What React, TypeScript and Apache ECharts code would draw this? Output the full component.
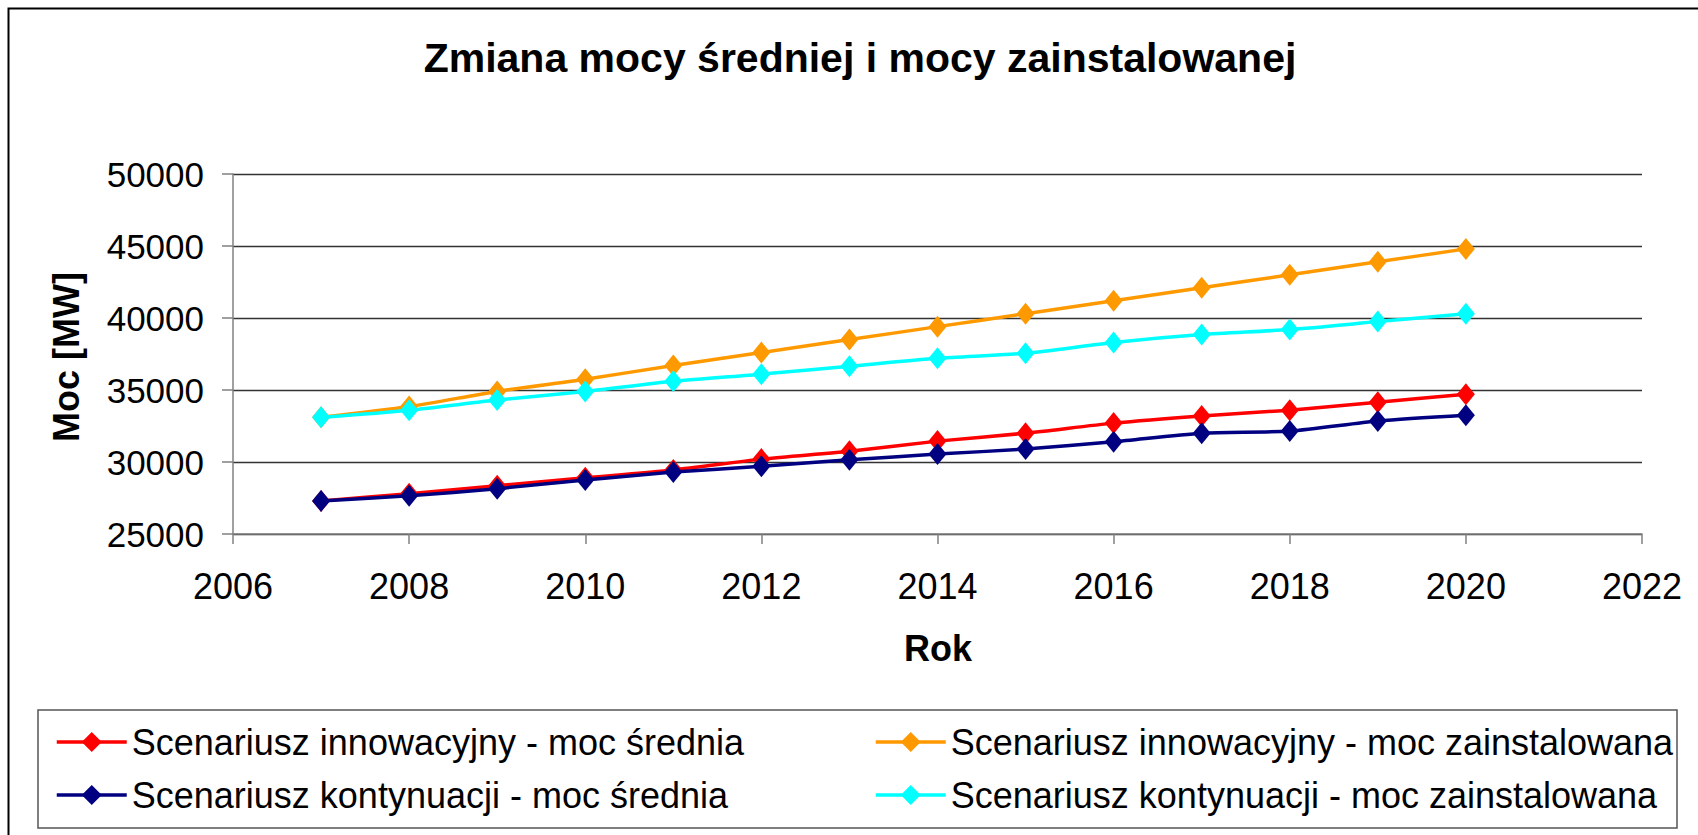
import React, { useEffect, useRef } from "react";
import * as echarts from "echarts";

const years = [2007, 2008, 2009, 2010, 2011, 2012, 2013, 2014, 2015, 2016, 2017, 2018, 2019, 2020];
const innowAvg = [27300, 27800, 28350, 28900, 29450, 30200, 30750, 31450, 32000, 32700, 33200, 33600, 34150, 34700];
const innowInst = [33100, 33850, 34900, 35750, 36700, 37600, 38500, 39400, 40300, 41200, 42100, 43000, 43900, 44800];
const kontAvg = [27300, 27650, 28150, 28750, 29300, 29700, 30150, 30550, 30900, 31400, 32000, 32150, 32850, 33250];
const kontInst = [33100, 33600, 34300, 34900, 35600, 36100, 36650, 37200, 37550, 38300, 38850, 39200, 39750, 40300];

const seriesNames = [
  "Scenariusz innowacyjny - moc średnia",
  "Scenariusz innowacyjny - moc zainstalowana",
  "Scenariusz kontynuacji - moc średnia",
  "Scenariusz kontynuacji - moc zainstalowana",
];
const seriesColors = ["#FF0000", "#FF9900", "#000080", "#00FFFF"];
const seriesValues = [innowAvg, innowInst, kontAvg, kontInst];

const titleText = "Zmiana mocy średniej i mocy zainstalowanej";
const xName = "Rok";
const yName = "Moc [MW]";

const FONT = '"Liberation Sans", Arial, sans-serif';

export default function App() {
  const ref = useRef<HTMLDivElement>(null);
  useEffect(() => {
    if (!ref.current) return;
    const chart = echarts.init(ref.current, null, { renderer: "svg" });
    const series = seriesValues.map((vals, i) => ({
      name: seriesNames[i],
      type: "line",
      data: years.map((y, j) => [y, vals[j]]),
      symbol: "diamond",
      symbolSize: [18, 22],
      smooth: 0.25,
      lineStyle: { color: seriesColors[i], width: 3.5 },
      itemStyle: { color: seriesColors[i] },
      emphasis: { disabled: true },
      z: 2 + i,
    }));
    const legendCommon = {
      orient: "vertical",
      top: 719,
      itemWidth: 70,
      itemHeight: 25,
      itemGap: 17,
      selectedMode: false,
      lineStyle: { width: 3.5 },
      textStyle: {
        fontSize: 36,
        lineHeight: 36,
        fontFamily: FONT,
        color: "#000",
      },
    };
    chart.setOption({
      animation: false,
      backgroundColor: "#fff",
      textStyle: { fontFamily: FONT },
      grid: { left: 233, right: 56, top: 174, bottom: 301, containLabel: false },
      legend: [
        { ...legendCommon, left: 50, data: [seriesNames[0], seriesNames[2]] },
        { ...legendCommon, left: 869, data: [seriesNames[1], seriesNames[3]] },
      ],
      xAxis: {
        type: "value",
        min: 2006,
        max: 2022,
        interval: 2,
        showMinLabel: true,
        showMaxLabel: true,
        axisLine: { show: true, onZero: false, lineStyle: { color: "#808080", width: 1.5 } },
        axisTick: { show: true, length: 10, lineStyle: { color: "#808080", width: 1.5 } },
        splitLine: { show: false },
        axisLabel: {
          fontSize: 36,
          lineHeight: 36,
          color: "#000",
          margin: 34,
          fontFamily: FONT,
          formatter: (v: number) => String(v),
        },
      },
      yAxis: {
        type: "value",
        min: 25000,
        max: 50000,
        interval: 5000,
        axisLine: { show: true, lineStyle: { color: "#808080", width: 1.5 } },
        axisTick: { show: true, length: 11, lineStyle: { color: "#808080", width: 1.5 } },
        splitLine: { show: true, lineStyle: { color: "#333", width: 1.3 } },
        axisLabel: {
          fontSize: 35,
          color: "#000",
          margin: 29,
          fontFamily: FONT,
          formatter: (v: number) => String(v),
        },
      },
      graphic: [
        {
          type: "rect",
          silent: true,
          shape: { x: 8.5, y: 8.5, width: 2000, height: 2000 },
          style: { fill: "none", stroke: "#000", lineWidth: 2 },
          z: -1,
        },
        {
          type: "rect",
          silent: true,
          shape: { x: 38, y: 710, width: 1639, height: 118 },
          style: { fill: "none", stroke: "#555", lineWidth: 1.5 },
        },
        {
          type: "text",
          x: 860,
          y: 58,
          style: {
            text: titleText,
            fontSize: 41,
            fontWeight: "bold",
            fontFamily: FONT,
            fill: "#000",
            align: "center",
            verticalAlign: "middle",
            textAlign: "center",
            textVerticalAlign: "middle",
          },
        },
        {
          type: "text",
          x: 938,
          y: 648,
          style: {
            text: xName,
            fontSize: 36,
            fontWeight: "bold",
            fontFamily: FONT,
            fill: "#000",
            align: "center",
            verticalAlign: "middle",
            textAlign: "center",
            textVerticalAlign: "middle",
          },
        },
        {
          type: "text",
          x: 66,
          y: 357,
          rotation: Math.PI / 2,
          style: {
            text: yName,
            fontSize: 36,
            fontWeight: "bold",
            fontFamily: FONT,
            fill: "#000",
            align: "center",
            verticalAlign: "middle",
            textAlign: "center",
            textVerticalAlign: "middle",
          },
        },
      ],
      series,
    });
    return () => chart.dispose();
  }, []);
  return (
    <div
      ref={ref}
      style={{ position: "absolute", left: 0, top: 0, width: 1698, height: 835 }}
    />
  );
}
